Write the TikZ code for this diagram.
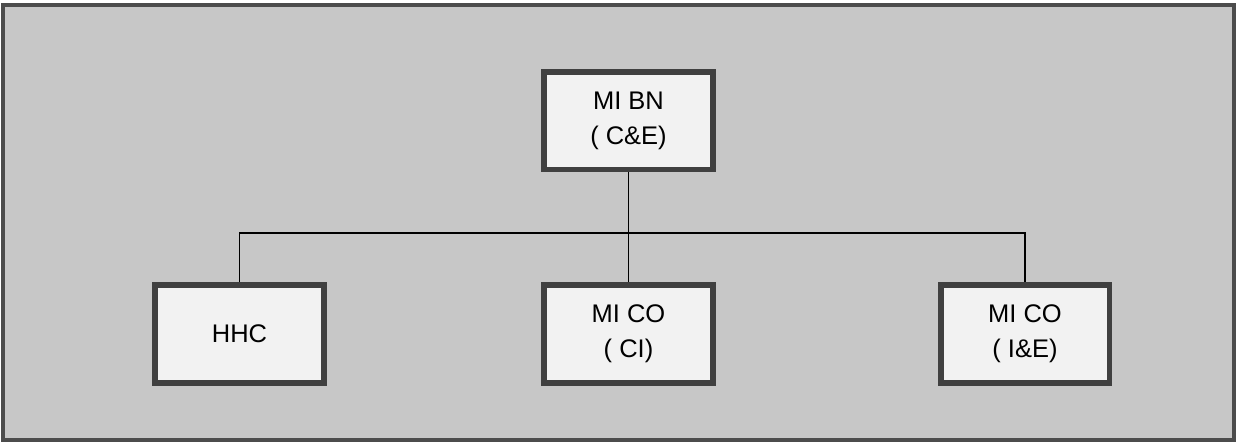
\documentclass[tikz,border=0pt]{standalone}
\usepackage{fontspec}
\setmainfont{Liberation Sans}
\usetikzlibrary{positioning}

\begin{document}
\begin{tikzpicture}[x=0.02cm,y=-0.02cm]
\tikzset{unit/.style={draw=black!75,line width=3.4pt,fill=black!5,minimum width=3.38cm,minimum height=1.96cm,align=center,inner sep=0pt,font=\fontsize{14.5}{20}\selectfont}}
\useasboundingbox (0,0) rectangle (1237,444);
\draw[fill=black!22,draw=black!70,line width=2.2pt] (3,5) rectangle (1234,440);
\node[unit] (bn) at (628.5,120.5) {MI BN\\( C\&E)};
\node[unit] (hhc) at (239.5,334) {HHC};
\node[unit] (ci) at (628.5,334) {MI CO\\( CI)};
\node[unit] (ie) at (1025,334) {MI CO\\( I\&E)};
\coordinate (j) at (628.5,233);
\draw[black,line width=0.6pt] (bn) -- (j)
(j) -- (ci)
(j) -| (hhc)
(j) -| (ie);
\end{tikzpicture}
\end{document}
